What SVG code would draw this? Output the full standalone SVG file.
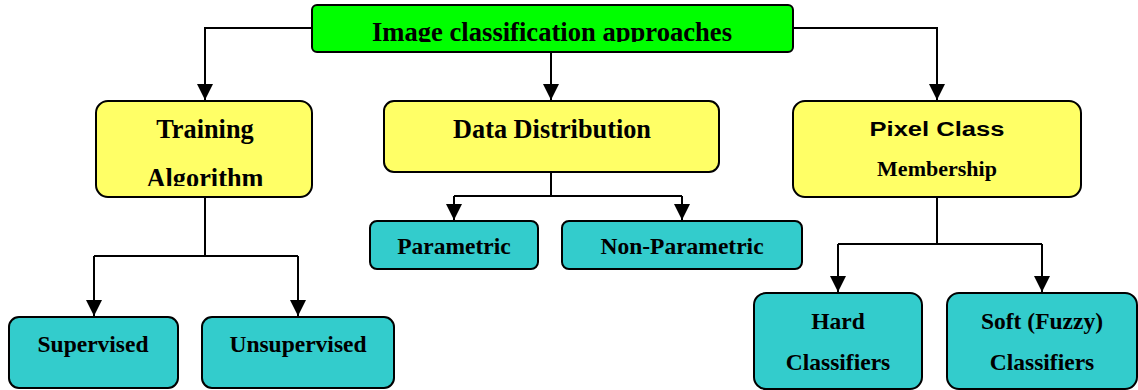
<svg xmlns="http://www.w3.org/2000/svg" width="1138" height="390" viewBox="0 0 1138 390">
  <style>
    .box { stroke: #000; stroke-width: 2; }
    .root { fill: #00FF00; }
    .mid { fill: #FFFF66; }
    .leaf { fill: #33CCCC; }
    .t { font-family: "Liberation Serif", "Times New Roman", serif; font-weight: bold; fill: #000; text-anchor: middle; }
    .s { font-family: "Liberation Sans", Arial, sans-serif; font-weight: bold; fill: #000; text-anchor: middle; }
    .wire { fill: none; stroke: #000; stroke-width: 2; }
  </style>
  <defs>
    <marker id="arrow" markerUnits="userSpaceOnUse" markerWidth="16" markerHeight="16" viewBox="0 0 16 16" refX="16" refY="8" orient="auto">
      <path d="M0,0 L16,8 L0,16 Z" fill="#000"/>
    </marker>
    <clipPath id="clipRoot"><rect x="312" y="5" width="481" height="37"/></clipPath>
    <clipPath id="clipTrain"><rect x="96" y="101" width="216" height="85"/></clipPath>
  </defs>

  <!-- connectors -->
  <g id="connectors">
    <path class="wire" d="M312,28 H205 V100" marker-end="url(#arrow)"/>
    <path class="wire" d="M551,52 V100" marker-end="url(#arrow)"/>
    <path class="wire" d="M793,28 H937 V100" marker-end="url(#arrow)"/>
    <path class="wire" d="M205,197 V256"/>
    <path class="wire" d="M94,256 H298"/>
    <path class="wire" d="M94,256 V316" marker-end="url(#arrow)"/>
    <path class="wire" d="M298,256 V316" marker-end="url(#arrow)"/>
    <path class="wire" d="M551,172 V196"/>
    <path class="wire" d="M454,196 H682"/>
    <path class="wire" d="M454,196 V220" marker-end="url(#arrow)"/>
    <path class="wire" d="M682,196 V220" marker-end="url(#arrow)"/>
    <path class="wire" d="M937,197 V244"/>
    <path class="wire" d="M838,244 H1042"/>
    <path class="wire" d="M838,244 V292" marker-end="url(#arrow)"/>
    <path class="wire" d="M1042,244 V292" marker-end="url(#arrow)"/>
  </g>

  <g id="root">
    <rect class="box root" x="312" y="5" width="481" height="47" rx="5"/>
    <text class="t" x="552" y="41" font-size="26.6" clip-path="url(#clipRoot)">Image classification approaches</text>
  </g>

  <g id="training">
    <rect class="box mid" x="96" y="101" width="216" height="96" rx="12"/>
    <g clip-path="url(#clipTrain)">
      <text class="t" x="205" y="138" font-size="26.3">Training</text>
      <text class="t" x="205" y="187" font-size="26.3">Algorithm</text>
    </g>
  </g>

  <g id="distribution">
    <rect class="box mid" x="384" y="101" width="335" height="71" rx="10"/>
    <text class="t" x="552" y="138" font-size="26.3">Data Distribution</text>
  </g>

  <g id="membership">
    <rect class="box mid" x="793" y="101" width="288" height="96" rx="12"/>
    <text class="s" x="937" y="136" font-size="20" textLength="135" lengthAdjust="spacingAndGlyphs">Pixel Class</text>
    <text class="t" x="937" y="176" font-size="22">Membership</text>
  </g>

  <g id="supervised">
    <rect class="box leaf" x="9" y="317" width="169" height="71" rx="10"/>
    <text class="t" x="93" y="352" font-size="23.5">Supervised</text>
  </g>

  <g id="unsupervised">
    <rect class="box leaf" x="202" y="317" width="192" height="71" rx="10"/>
    <text class="t" x="298" y="352" font-size="23.5">Unsupervised</text>
  </g>

  <g id="parametric">
    <rect class="box leaf" x="370" y="221" width="168" height="48" rx="7"/>
    <text class="t" x="454" y="254" font-size="23.5">Parametric</text>
  </g>

  <g id="nonparametric">
    <rect class="box leaf" x="562" y="221" width="240" height="48" rx="7"/>
    <text class="t" x="682" y="254" font-size="23.5">Non-Parametric</text>
  </g>

  <g id="hard">
    <rect class="box leaf" x="754" y="293" width="168" height="96" rx="12"/>
    <text class="t" x="838" y="329" font-size="23.5">Hard</text>
    <text class="t" x="838" y="370" font-size="23.5">Classifiers</text>
  </g>

  <g id="soft">
    <rect class="box leaf" x="947" y="293" width="190" height="96" rx="12"/>
    <text class="t" x="1042" y="329" font-size="23.5">Soft (Fuzzy)</text>
    <text class="t" x="1042" y="370" font-size="23.5">Classifiers</text>
  </g>
</svg>
